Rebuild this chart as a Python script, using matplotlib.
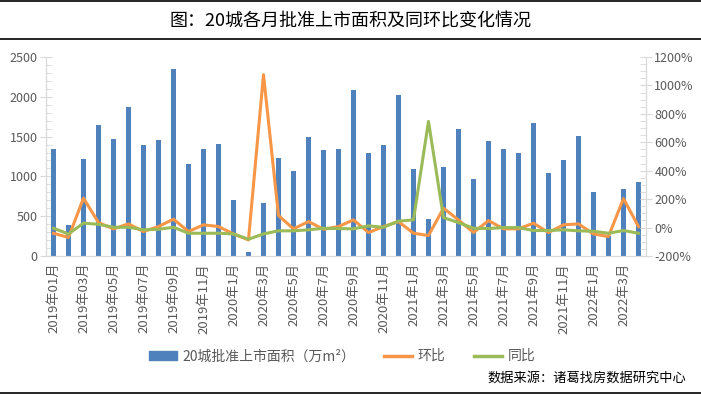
import numpy as np
import matplotlib
matplotlib.use("Agg")
import matplotlib.pyplot as plt
from matplotlib.lines import Line2D
from matplotlib.ticker import MultipleLocator, FuncFormatter

plt.rcParams['font.family'] = ['Noto Sans CJK SC', 'DejaVu Sans']

# ==============================
# DATA
# ==============================

months = (
    ["2019年%02d月" % m for m in range(1, 13)]
    + ["2020年%d月" % m for m in range(1, 13)]
    + ["2021年%d月" % m for m in range(1, 13)]
    + ["2022年%d月" % m for m in range(1, 5)]
)

area = [
    1340, 390, 1220, 1650, 1475, 1875, 1400, 1460, 2355, 1150, 1350, 1410,
    705, 50, 665, 1235, 1070, 1500, 1335, 1345, 2090, 1295, 1400, 2025,
    1095, 465, 1120, 1600, 970, 1450, 1345, 1295, 1675, 1045, 1205, 1510,
    805, 250, 845, 930,
]

mom = [
    -40, -70, 207, 35, -9, 26, -28, 7, 59, -28, 19, 7,
    -45, -87, 1076, 85, -9, 42, -12, 7, 54, -35, 7, 42,
    -40, -56, 136, 54, -35, 49, -9, -9, 31, -35, 19, 26,
    -45, -63, 204, 7,
]

yoy = [
    -5, -45, 31, 23, 2, 2, -16, -12, 2, -40, -40, -40,
    -45, -82, -45, -23, -23, -16, -5, -7, -9, 12, 2, 45,
    54, 747, 70, 35, -5, -7, 0, 0, -21, -21, -16, -23,
    -26, -40, -21, -40,
]

BLUE = "#4f81bd"
ORANGE = "#f79646"
GREEN = "#9bbb59"
GRAY = "#d9d9d9"
TEXT = "#595959"

# ==============================
# FIGURE
# ==============================

fig = plt.figure(figsize=(7.01, 3.94), dpi=100)

ax = fig.add_axes([0.0656, 0.3503, 0.8559, 0.5050])
ax2 = ax.twinx()

x = np.arange(len(months))

ax.bar(x, area, width=0.35, color=BLUE, zorder=2)

ax2.plot(x, mom, color=ORANGE, linewidth=2.2, solid_joinstyle="round")
ax2.plot(x, yoy, color=GREEN, linewidth=2.2, solid_joinstyle="round")

# left axis
ax.set_xlim(-0.5, len(months) - 0.5)
ax.set_ylim(0, 2500)
ax.yaxis.set_major_locator(MultipleLocator(500))
ax.yaxis.set_minor_locator(MultipleLocator(100))

# right axis
ax2.set_ylim(-200, 1200)
ax2.yaxis.set_major_locator(MultipleLocator(200))
ax2.yaxis.set_minor_locator(MultipleLocator(50))
ax2.yaxis.set_major_formatter(FuncFormatter(lambda v, p: "%d%%" % v))

for a in (ax, ax2):
    for s in a.spines.values():
        s.set_color(GRAY)
        s.set_linewidth(0.8)
    a.spines["top"].set_visible(False)

ax.tick_params(axis="y", which="major", direction="inout", length=8,
               color=GRAY, labelsize=9, labelcolor=TEXT, pad=2)
ax.tick_params(axis="y", which="minor", direction="in", length=4, color=GRAY)
ax2.tick_params(axis="y", which="major", direction="inout", length=8,
                color=GRAY, labelsize=9, labelcolor=TEXT, pad=2)
ax2.tick_params(axis="y", which="minor", direction="in", length=4, color=GRAY)

ax.set_xticks(x[::2])
ax.set_xticklabels(months[::2], rotation=90, fontsize=9.5, color=TEXT)
ax.tick_params(axis="x", length=0, pad=5)

# ==============================
# LEGEND
# ==============================

handles = [
    plt.Rectangle((0, 0), 1, 1, color=BLUE),
    Line2D([0], [0], color=ORANGE, linewidth=2.5),
    Line2D([0], [0], color=GREEN, linewidth=2.5),
]
labels = ["20城批准上市面积（万m²）", "环比", "同比"]

fig.legend(handles, labels, loc="center", ncol=3,
           bbox_to_anchor=(0.488, 0.096), frameon=False,
           fontsize=10, handlelength=2.0, handleheight=0.6,
           columnspacing=2.1, handletextpad=0.4, labelcolor=TEXT)

# ==============================
# TITLE / SOURCE / RULES
# ==============================

fig.text(0.5, 0.945, "图：20城各月批准上市面积及同环比变化情况",
         ha="center", va="center", fontsize=13, color="black")

fig.text(0.979, 0.04, "数据来源：诸葛找房数据研究中心",
         ha="right", va="center", fontsize=9.5, color="black",
         fontweight="medium")

for yy in (0.997, 0.901, 0.003):
    fig.add_artist(Line2D([0, 1], [yy, yy], color="black", linewidth=1.2,
                          transform=fig.transFigure))

fig.savefig("out.png", dpi=100)
